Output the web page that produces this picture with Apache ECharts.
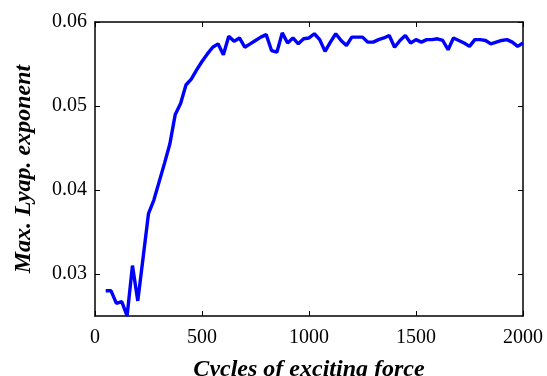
<!DOCTYPE html>
<html>
<head>
<meta charset="utf-8">
<title>Max. Lyap. exponent</title>
<script src="https://cdn.jsdelivr.net/npm/echarts@6/dist/echarts.min.js"></script>
<style>
  html, body { margin: 0; padding: 0; background: #fff; }
  #chart { width: 547px; height: 376px; }
</style>
</head>
<body>
<div id="chart"></div>
<script>
const cycles = [
  50, 75, 100, 125, 150, 175, 200, 225, 250, 275,
  300, 325, 350, 375, 400, 425, 450, 475, 500, 525,
  550, 575, 600, 625, 650, 675, 700, 725, 750, 775,
  800, 825, 850, 875, 900, 925, 950, 975, 1000, 1025,
  1050, 1075, 1100, 1125, 1150, 1175, 1200, 1225, 1250, 1275,
  1300, 1325, 1350, 1375, 1400, 1425, 1450, 1475, 1500, 1525,
  1550, 1575, 1600, 1625, 1650, 1675, 1700, 1725, 1750, 1775,
  1800, 1825, 1850, 1875, 1900, 1925, 1950, 1975, 2000
];
const lyapExponent = [
  0.0280, 0.0280, 0.0265, 0.0267, 0.0250, 0.0310, 0.0268, 0.0320, 0.0372, 0.0388,
  0.0410, 0.0432, 0.0455, 0.0490, 0.0503, 0.0525, 0.0532, 0.0543, 0.0553, 0.0562,
  0.0570, 0.0574, 0.0561, 0.0583, 0.0577, 0.0581, 0.0570, 0.0574, 0.0578, 0.0582,
  0.0585, 0.0566, 0.0564, 0.0587, 0.0575, 0.0581, 0.0574, 0.0580, 0.0581, 0.0586,
  0.0579, 0.0565, 0.0576, 0.0586, 0.0578, 0.0572, 0.0582, 0.0582, 0.0582, 0.0576,
  0.0576, 0.0579, 0.0581, 0.0584, 0.0570, 0.0578, 0.0584, 0.0575, 0.0579, 0.0576,
  0.0579, 0.0579, 0.0580, 0.0578, 0.0567, 0.0581, 0.0578, 0.0575, 0.0571, 0.0579,
  0.0579, 0.0578, 0.0574, 0.0576, 0.0578, 0.0579, 0.0576, 0.0571, 0.0575
];
const xTicks = [0, 500, 1000, 1500, 2000];
const yTicks = [0.03, 0.04, 0.05, 0.06];

const FONT = '"Liberation Serif", "Times New Roman", serif';
const nameStyle = () => ({
  color: "#000",
  fontFamily: FONT,
  fontSize: 24,
  fontStyle: "italic",
  fontWeight: "bold",
});

function xAxis(position, showLabels) {
  return {
    type: "value",
    position,
    min: 0,
    max: 2000,
    interval: 500,
    axisLine: { show: true, onZero: false, lineStyle: { color: "#000", width: 1.5 } },
    axisTick: { show: true, inside: true, length: 5, customValues: xTicks, lineStyle: { color: "#000", width: 1 } },
    axisLabel: {
      show: showLabels,
      customValues: xTicks,
      color: "#000",
      fontFamily: FONT,
      fontSize: 20,
      margin: 12,
      formatter: (v) => String(v),
    },
    splitLine: { show: false },
  };
}

function yAxis(position, showLabels) {
  return {
    type: "value",
    position,
    min: 0.025,
    max: 0.06,
    axisLine: { show: true, onZero: false, lineStyle: { color: "#000", width: 1.5 } },
    axisTick: { show: true, inside: true, length: 5, customValues: yTicks, lineStyle: { color: "#000", width: 1 } },
    axisLabel: {
      show: showLabels,
      customValues: yTicks,
      color: "#000",
      fontFamily: FONT,
      fontSize: 20,
      margin: 8,
      formatter: (v) => v.toFixed(2),
    },
    splitLine: { show: false },
  };
}

const chart = echarts.init(document.getElementById("chart"), null, { renderer: "canvas" });

const bottomX = xAxis("bottom", true);
bottomX.name = "Cycles of exciting force";
bottomX.nameLocation = "middle";
bottomX.nameGap = 42;
bottomX.nameTextStyle = nameStyle();

const topX = xAxis("top", false);

const leftY = yAxis("left", true);
leftY.name = "Max. Lyap. exponent";
leftY.nameLocation = "middle";
leftY.nameGap = 59;
leftY.nameTextStyle = nameStyle();

const rightY = yAxis("right", false);

chart.setOption({
  backgroundColor: "#fff",
  animation: false,
  grid: { left: 95, right: 24, top: 22, bottom: 60, outerBoundsMode: "none" },
  xAxis: [bottomX, topX],
  yAxis: [leftY, rightY],
  series: [
    {
      type: "line",
      xAxisIndex: 0,
      yAxisIndex: 0,
      data: cycles.map((c, i) => [c, lyapExponent[i]]),
      showSymbol: false,
      lineStyle: { color: "#0000ff", width: 3.4 },
      itemStyle: { color: "#0000ff" },
    },
  ],
});
</script>
</body>
</html>
